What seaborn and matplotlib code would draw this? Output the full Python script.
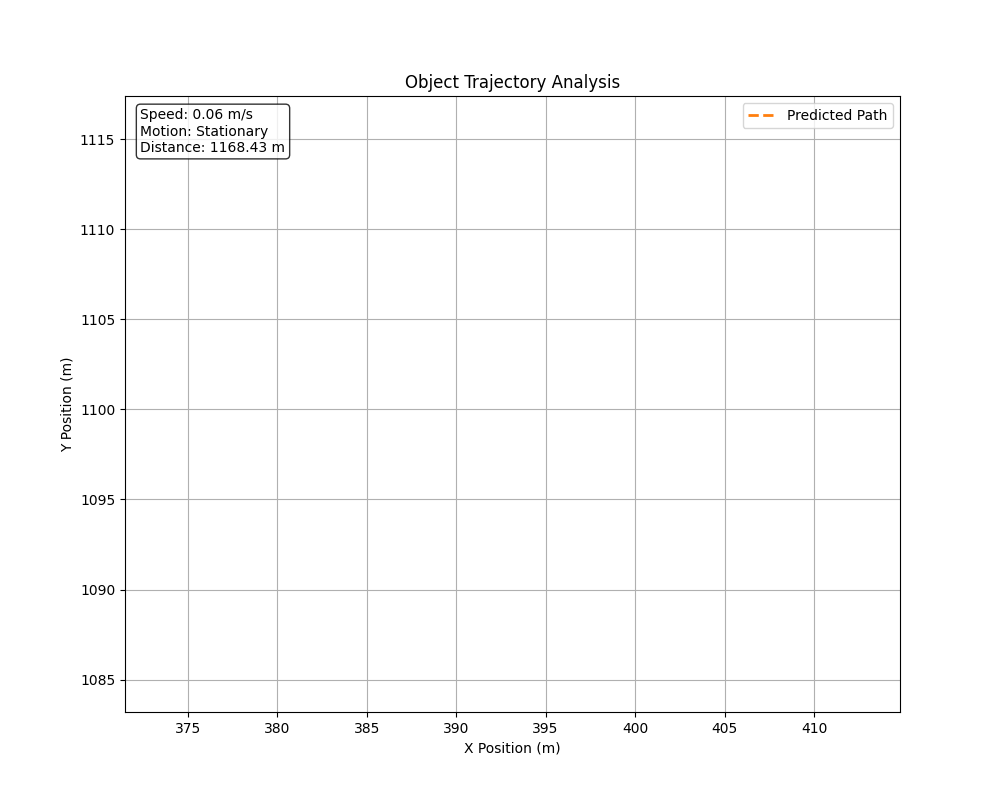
import numpy as np
import matplotlib
matplotlib.use("Agg")
import matplotlib.pyplot as plt
import seaborn as sns

# predicted path: object is basically stationary, so the path has no visible length
path_x = [393.15, 393.15]
path_y = [1100.3, 1100.3]
x_range = [371.5, 414.8]
y_range = [1083.2, 1117.4]

speed = 0.06
motion = "Stationary"
distance = 1168.43

fig, ax = plt.subplots(figsize=(10, 8))
sns.lineplot(x=path_x, y=path_y, ax=ax, color="#ff7f0e", linestyle="--",
             linewidth=2, label="Predicted Path")
ax.set_xlim(x_range)
ax.set_ylim(y_range)
ax.set_xticks(np.arange(375, 415, 5))
ax.set_yticks(np.arange(1085, 1116, 5))
ax.grid(True)
ax.set_title("Object Trajectory Analysis")
ax.set_xlabel("X Position (m)")
ax.set_ylabel("Y Position (m)")
ax.legend(loc="upper right")

info = f"Speed: {speed:.2f} m/s\nMotion: {motion}\nDistance: {distance:.2f} m"
ax.text(0.02, 0.98, info, transform=ax.transAxes, va="top",
        bbox=dict(boxstyle="round", facecolor="white", alpha=0.8))

plt.savefig("out.png", dpi=100)
